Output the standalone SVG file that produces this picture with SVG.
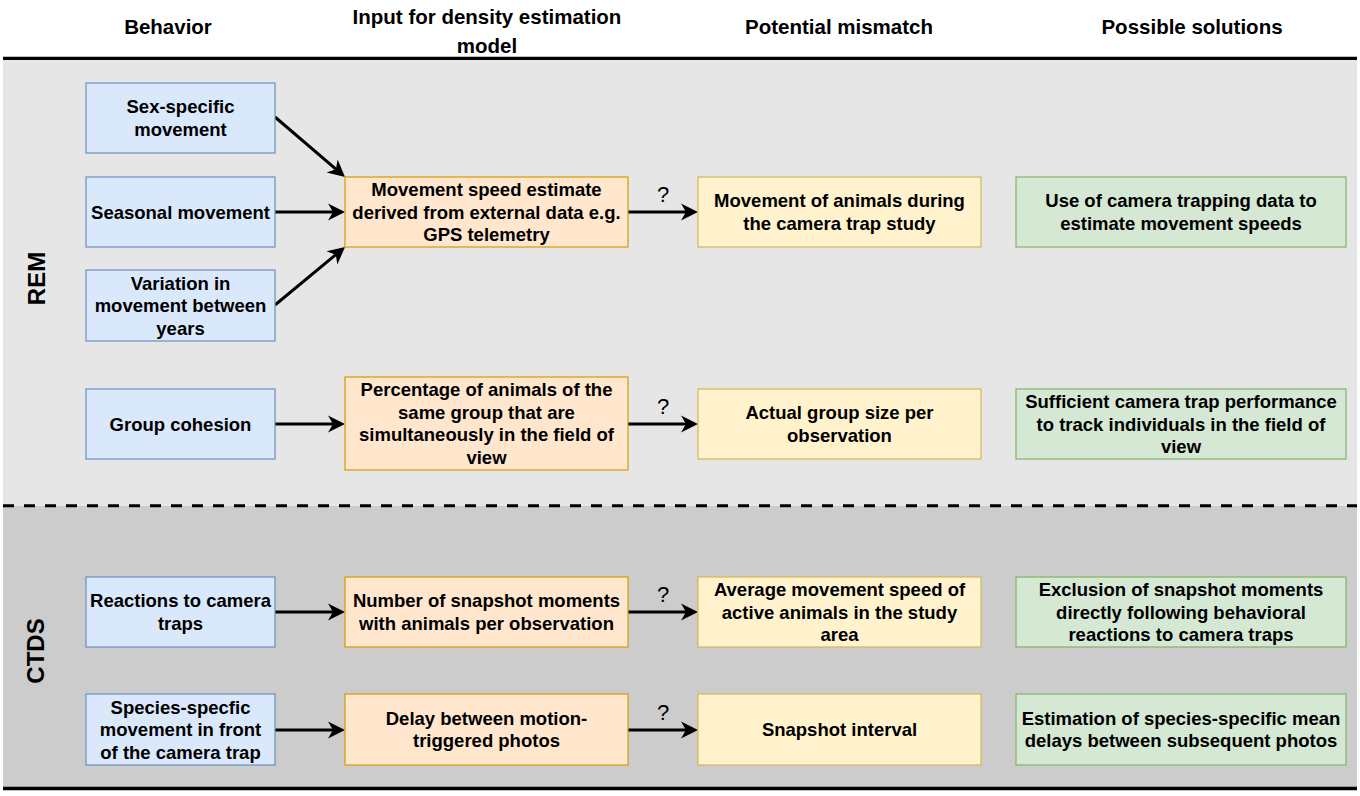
<svg xmlns="http://www.w3.org/2000/svg" width="1360" height="796" viewBox="0 0 1360 796">
<style>
text{font-family:"Liberation Sans",Arial,sans-serif;fill:#000;}
.hd{font-size:20.5px;font-weight:bold;text-anchor:middle;}
.t{font-size:18.5px;font-weight:bold;text-anchor:middle;}
.q{font-size:22px;text-anchor:middle;}
.lbl{font-size:24px;font-weight:bold;text-anchor:middle;}
.b{fill:#dae8fc;stroke:#6c8ebf;stroke-width:1.2;}
.o{fill:#ffe6cc;stroke:#d79b00;stroke-width:1.2;}
.y{fill:#fff2cc;stroke:#d6b656;stroke-width:1.2;}
.g{fill:#d5e8d4;stroke:#82b366;stroke-width:1.2;}
.c{stroke:#000;stroke-width:3;fill:none;marker-end:url(#ah);}
</style>
<defs>
<marker id="ah" markerUnits="userSpaceOnUse" viewBox="-7 -10 20 20" markerWidth="20" markerHeight="20" refX="0" refY="0" orient="auto">
<path d="M12,0 L-5,-8.5 L0,0 L-5,8.5 Z" fill="#000"/>
</marker>
</defs>
<rect x="0" y="0" width="1360" height="796" fill="#fff"/>
<g id="background">
<rect x="3" y="59" width="1354" height="447" fill="#e6e6e6"/>
<rect x="3" y="506" width="1354" height="281" fill="#cccccc"/>
<line x1="3" y1="58.3" x2="1357" y2="58.3" stroke="#000" stroke-width="3.2"/>
<line x1="3" y1="505.7" x2="1357" y2="505.7" stroke="#000" stroke-width="3" stroke-dasharray="11 10"/>
<line x1="3" y1="788.5" x2="1357" y2="788.5" stroke="#000" stroke-width="3.5"/>
</g>
<g id="headers">
<text class="hd" x="168" y="34">Behavior</text>
<text class="hd" x="487" y="24">Input for density estimation</text>
<text class="hd" x="487" y="53">model</text>
<text class="hd" x="839" y="34">Potential mismatch</text>
<text class="hd" x="1192" y="34">Possible solutions</text>
</g>
<g id="section-labels">
<text class="lbl" transform="translate(45,278.5) rotate(-90)">REM</text>
<text class="lbl" transform="translate(44,651) rotate(-90)">CTDS</text>
</g>
<g id="connectors">
<line class="c" x1="275" y1="117" x2="335.9" y2="169.2"/>
<line class="c" x1="275" y1="212" x2="333" y2="212"/>
<line class="c" x1="275" y1="305" x2="335.8" y2="254.7"/>
<line class="c" x1="628" y1="212" x2="686" y2="212"/>
<line class="c" x1="275" y1="424" x2="333" y2="424"/>
<line class="c" x1="628" y1="424" x2="686" y2="424"/>
<line class="c" x1="275" y1="612" x2="333" y2="612"/>
<line class="c" x1="628" y1="612" x2="686" y2="612"/>
<line class="c" x1="275" y1="730" x2="333" y2="730"/>
<line class="c" x1="628" y1="730" x2="686" y2="730"/>
<text class="q" x="663" y="202">?</text>
<text class="q" x="663" y="414">?</text>
<text class="q" x="663" y="602">?</text>
<text class="q" x="663" y="720">?</text>
</g>
<g id="b1"><rect class="b" x="86" y="83" width="189" height="70"/>
<text class="t" x="180.5" y="113.25">Sex-specific</text><text class="t" x="180.5" y="135.75">movement</text></g>
<g id="b2"><rect class="b" x="86" y="177" width="189" height="70"/>
<text class="t" x="180.5" y="218.5">Seasonal movement</text></g>
<g id="b3"><rect class="b" x="86" y="270" width="189" height="71"/>
<text class="t" x="180.5" y="289.5">Variation in</text><text class="t" x="180.5" y="312">movement between</text><text class="t" x="180.5" y="334.5">years</text></g>
<g id="b4"><rect class="b" x="86" y="389" width="189" height="70"/>
<text class="t" x="180.5" y="430.5">Group cohesion</text></g>
<g id="b5"><rect class="b" x="86" y="577" width="189" height="70"/>
<text class="t" x="180.5" y="607.25">Reactions to camera</text><text class="t" x="180.5" y="629.75">traps</text></g>
<g id="b6"><rect class="b" x="86" y="694" width="189" height="71"/>
<text class="t" x="180.5" y="713.5">Species-specfic</text><text class="t" x="180.5" y="736">movement in front</text><text class="t" x="180.5" y="758.5">of the camera trap</text></g>
<g id="o1"><rect class="o" x="345" y="177" width="283" height="70"/>
<text class="t" x="486.5" y="196">Movement speed estimate</text><text class="t" x="486.5" y="218.5">derived from external data e.g.</text><text class="t" x="486.5" y="241">GPS telemetry</text></g>
<g id="o2"><rect class="o" x="345" y="377" width="283" height="93"/>
<text class="t" x="486.5" y="396.25">Percentage of animals of the</text><text class="t" x="486.5" y="418.75">same group that are</text><text class="t" x="486.5" y="441.25">simultaneously in the field of</text><text class="t" x="486.5" y="463.75">view</text></g>
<g id="o3"><rect class="o" x="345" y="577" width="283" height="70"/>
<text class="t" x="486.5" y="607.25">Number of snapshot moments</text><text class="t" x="486.5" y="629.75">with animals per observation</text></g>
<g id="o4"><rect class="o" x="345" y="694" width="283" height="71"/>
<text class="t" x="486.5" y="724.75">Delay between motion-</text><text class="t" x="486.5" y="747.25">triggered photos</text></g>
<g id="y1"><rect class="y" x="698" y="177" width="283" height="70"/>
<text class="t" x="839.5" y="207.25">Movement of animals during</text><text class="t" x="839.5" y="229.75">the camera trap study</text></g>
<g id="y2"><rect class="y" x="698" y="389" width="283" height="70"/>
<text class="t" x="839.5" y="419.25">Actual group size per</text><text class="t" x="839.5" y="441.75">observation</text></g>
<g id="y3"><rect class="y" x="698" y="577" width="283" height="70"/>
<text class="t" x="839.5" y="596">Average movement speed of</text><text class="t" x="839.5" y="618.5">active animals in the study</text><text class="t" x="839.5" y="641">area</text></g>
<g id="y4"><rect class="y" x="698" y="694" width="283" height="71"/>
<text class="t" x="839.5" y="736">Snapshot interval</text></g>
<g id="g1"><rect class="g" x="1016" y="177" width="330" height="70"/>
<text class="t" x="1181" y="207.25">Use of camera trapping data to</text><text class="t" x="1181" y="229.75">estimate movement speeds</text></g>
<g id="g2"><rect class="g" x="1016" y="389" width="330" height="70"/>
<text class="t" x="1181" y="408">Sufficient camera trap performance</text><text class="t" x="1181" y="430.5">to track individuals in the field of</text><text class="t" x="1181" y="453">view</text></g>
<g id="g3"><rect class="g" x="1016" y="577" width="330" height="70"/>
<text class="t" x="1181" y="596">Exclusion of snapshot moments</text><text class="t" x="1181" y="618.5">directly following behavioral</text><text class="t" x="1181" y="641">reactions to camera traps</text></g>
<g id="g4"><rect class="g" x="1016" y="694" width="330" height="71"/>
<text class="t" x="1181" y="724.75">Estimation of species-specific mean</text><text class="t" x="1181" y="747.25">delays between subsequent photos</text></g>
</svg>
